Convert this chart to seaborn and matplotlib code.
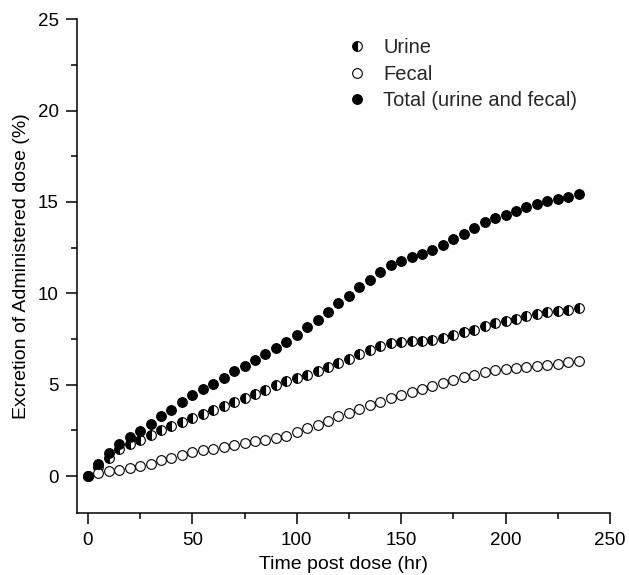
import numpy as np
import pandas as pd
import matplotlib
matplotlib.use("Agg")
import matplotlib.pyplot as plt
import seaborn as sns
from matplotlib.ticker import MultipleLocator

# ---- data ----
time_hr = [0, 5, 10, 15, 20, 25, 30, 35, 40, 45, 50, 55, 60, 65, 70, 75,
           80, 85, 90, 95, 100, 105, 110, 115, 120, 125, 130, 135, 140, 145,
           150, 155, 160, 165, 170, 175, 180, 185, 190, 195, 200, 205, 210,
           215, 220, 225, 230, 235]

urine = [0.00, 0.50, 1.02, 1.46, 1.77, 2.00, 2.24, 2.50, 2.73, 2.95, 3.17,
         3.41, 3.61, 3.83, 4.04, 4.28, 4.50, 4.74, 4.97, 5.19, 5.39, 5.56,
         5.76, 5.97, 6.19, 6.43, 6.67, 6.89, 7.10, 7.27, 7.32, 7.40, 7.41,
         7.47, 7.54, 7.72, 7.87, 8.01, 8.20, 8.36, 8.47, 8.60, 8.74, 8.89,
         8.96, 9.03, 9.11, 9.18]

fecal = [0.00, 0.18, 0.26, 0.33, 0.42, 0.55, 0.69, 0.86, 1.00, 1.18, 1.33,
         1.42, 1.51, 1.62, 1.73, 1.82, 1.93, 2.00, 2.09, 2.22, 2.40, 2.62,
         2.82, 3.02, 3.28, 3.46, 3.68, 3.88, 4.06, 4.28, 4.44, 4.61, 4.79,
         4.95, 5.10, 5.28, 5.41, 5.54, 5.72, 5.83, 5.88, 5.94, 5.99, 6.05,
         6.08, 6.16, 6.23, 6.30]

total = [0.00, 0.67, 1.24, 1.78, 2.15, 2.46, 2.88, 3.28, 3.64, 4.04, 4.43,
         4.77, 5.06, 5.39, 5.76, 6.05, 6.38, 6.70, 7.01, 7.34, 7.74, 8.14,
         8.56, 9.00, 9.47, 9.87, 10.33, 10.73, 11.15, 11.53, 11.75, 11.97,
         12.17, 12.39, 12.66, 12.97, 13.24, 13.59, 13.88, 14.12, 14.30,
         14.52, 14.72, 14.90, 15.03, 15.17, 15.26, 15.46]

labels = ["Urine", "Fecal", "Total (urine and fecal)"]

# ---- style ----
sns.set_style("ticks")
plt.rcParams["font.family"] = ["Liberation Sans", "DejaVu Sans"]

fig = plt.figure(figsize=(6.29, 5.75), dpi=100)
ax = fig.add_axes([77.0 / 629, 1 - 512.7 / 575, (610 - 77.0) / 629, (512.7 - 19.2) / 575])

ms = 7.0
mew = 0.8
sns.lineplot(x=time_hr, y=urine, ax=ax, linestyle="", marker="o",
             markersize=ms, markeredgewidth=mew, markeredgecolor="black",
             markerfacecolor="black", markerfacecoloralt="white",
             fillstyle="left", label=labels[0], errorbar=None)
sns.lineplot(x=time_hr, y=fecal, ax=ax, linestyle="", marker="o",
             markersize=ms, markeredgewidth=mew, markeredgecolor="black",
             markerfacecolor="white", label=labels[1], errorbar=None)
sns.lineplot(x=time_hr, y=total, ax=ax, linestyle="", marker="o",
             markersize=ms, markeredgewidth=mew, markeredgecolor="black",
             markerfacecolor="black", label=labels[2], errorbar=None)

ax.set_xlim(-5.2, 250)
ax.set_ylim(-2, 25)
ax.xaxis.set_major_locator(MultipleLocator(50))
ax.xaxis.set_minor_locator(MultipleLocator(25))
ax.yaxis.set_major_locator(MultipleLocator(5))
ax.yaxis.set_minor_locator(MultipleLocator(2.5))

for s in ["top", "right"]:
    ax.spines[s].set_visible(False)
for s in ["left", "bottom"]:
    ax.spines[s].set_linewidth(1.1)
    ax.spines[s].set_color("black")

ax.tick_params(axis="both", which="major", direction="out", length=8,
               width=1.1, colors="black", labelsize=13.5)
ax.tick_params(axis="both", which="minor", direction="out", length=4.5,
               width=1.1, colors="black")
ax.tick_params(axis="x", which="major", pad=6)
ax.tick_params(axis="y", which="major", pad=5)

ax.set_xlabel("Time post dose (hr)", fontsize=14, color="black", labelpad=5)
ax.set_ylabel("Excretion of Administered dose (%)", fontsize=14, color="black", labelpad=6)

leg = ax.legend(loc="upper left", bbox_to_anchor=(347 / 629, 1 - 38 / 575),
                bbox_transform=fig.transFigure, frameon=False, fontsize=14.5,
                handlelength=1.0, handletextpad=0.8, labelspacing=0.38,
                borderpad=0, borderaxespad=0)

fig.savefig("out.png", dpi=100)
